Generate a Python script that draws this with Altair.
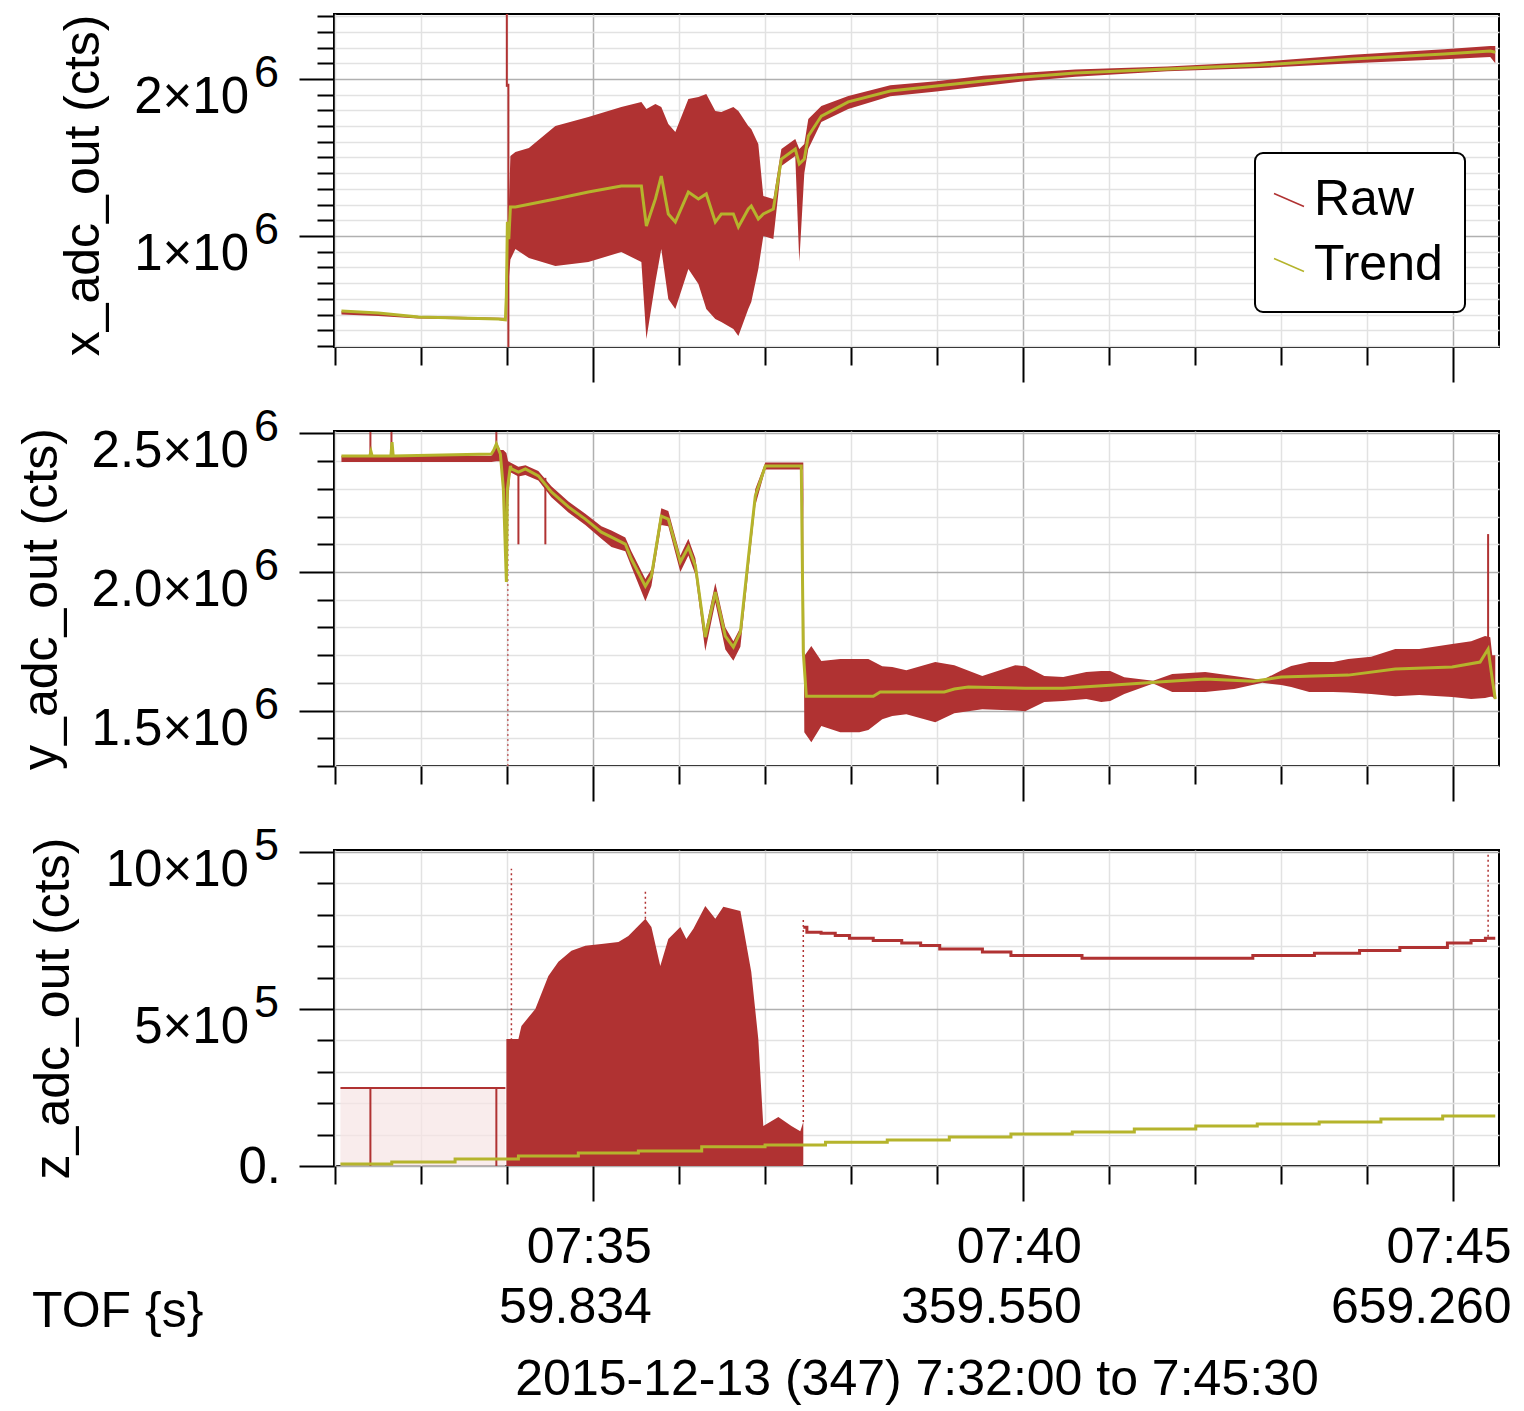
import altair as alt
import pandas as pd

FONT = "Liberation Sans"
RED = "#B03232"
OLIVE = "#B5B42C"
PINK = "#F6E4E4"
GRID_MAJOR = "#b0b0b0"
GRID_MINOR = "#e2e2e2"

# ---------------- x axis (seconds after 07:32:00) ----------------
X_TICKS = list(range(0, 781, 60))
X_MAJOR_T = [180, 480, 780]
X_MAJOR_CLOCK = ["07:35", "07:40", "07:45"]
X_MAJOR_TOF = ["59.834", "359.550", "659.260"]
X_TITLE = "2015-12-13 (347) 7:32:00 to 7:45:30"
TOF_LABEL = ["TOF {s}"]
T_DOMAIN = [-1.0, 812.0]

# ---------------- panel 1 : x_adc_out (millions of counts) ----------------
X1_T = [4.2, 30.0, 57.9, 85.8, 113.7, 118.6, 122.1, 125.6, 135.0, 153.5, 176.5, 199.5, 213.5, 217.0, 223.3,
        227.4, 232.3, 237.2, 246.3, 253.3, 258.8, 265.1, 269.3, 277.7, 281.2, 288.1, 290.2, 295.1, 298.6,
        305.6, 311.2, 320.9, 323.7, 327.2, 330.0, 339.1, 357.9, 387.2, 419.3, 452.1, 480.7, 516.3, 580.5,
        645.4, 709.6, 773.8, 805.9, 809.4]
X1_LO = [0.50, 0.49, 0.475, 0.47, 0.465, 0.46, 0.85, 0.917, 0.86, 0.809, 0.834, 0.898, 0.834, 0.344, 0.707,
         0.917, 0.599, 0.535, 0.790, 0.694, 0.535, 0.472, 0.452, 0.408, 0.363, 0.535, 0.580, 0.790, 1.000,
         0.981, 1.446, 1.510, 0.834, 1.40, 1.554, 1.726, 1.809, 1.89, 1.92, 1.955, 1.985, 2.015, 2.05,
         2.07, 2.10, 2.125, 2.14, 2.10]
X1_HI = [0.52, 0.51, 0.49, 0.485, 0.48, 0.48, 1.51, 1.535, 1.56, 1.701, 1.758, 1.822, 1.854, 1.809, 1.841,
         1.822, 1.713, 1.662, 1.873, 1.885, 1.904, 1.796, 1.790, 1.822, 1.796, 1.701, 1.682, 1.586, 1.255,
         1.236, 1.554, 1.618, 1.554, 1.586, 1.745, 1.828, 1.892, 1.96, 1.985, 2.02, 2.04, 2.06, 2.08,
         2.11, 2.155, 2.19, 2.21, 2.21]
X1_SPIKE_T = [119.6, 120.7]
X1_SPIKE_LO = [1.95, 0.293]
X1_SPIKE_HI = [2.414, 1.97]
X1_TREND_T = [4.2, 30.0, 57.9, 85.8, 113.7, 118.6, 119.3, 120.0, 121.0, 122.1, 125.6, 153.5, 176.5, 199.5,
              213.5, 217.0, 223.3, 227.4, 232.3, 237.2, 246.3, 253.3, 258.8, 265.1, 269.3, 277.7, 281.2,
              288.1, 290.2, 295.1, 298.6, 305.6, 311.2, 320.9, 323.7, 327.2, 330.0, 339.1, 357.9, 387.2,
              419.3, 452.1, 480.7, 516.3, 580.5, 645.4, 709.6, 773.8, 805.9, 809.4]
X1_TREND = [0.522, 0.510, 0.484, 0.478, 0.471, 0.466, 0.62, 1.09, 0.98, 1.185, 1.185, 1.236, 1.280, 1.318,
            1.318, 1.064, 1.236, 1.382, 1.140, 1.089, 1.280, 1.236, 1.268, 1.089, 1.140, 1.140, 1.057,
            1.172, 1.191, 1.108, 1.140, 1.172, 1.49, 1.554, 1.459, 1.49, 1.637, 1.764, 1.854, 1.924,
            1.955, 1.987, 2.013, 2.038, 2.064, 2.089, 2.127, 2.159, 2.178, 2.17]
X1_DOMAIN = [0.293, 2.414]
X1_TICKS = [round(i * 0.1, 1) for i in range(3, 25)]
X1_LAB_V = [1.0, 2.0]
X1_LAB_BASE = ["1×10", "2×10"]
X1_LAB_EXP = ["6", "6"]

# ---------------- panel 2 : y_adc_out ----------------
Y2_T = [4.2, 108.8, 112.3, 115.1, 117.2, 119.3, 120.5, 122.1, 127.7, 132.6, 141.6, 150.7, 162.6, 174.4,
        185.6, 192.6, 202.3, 206.5, 216.3, 220.5, 227.4, 232.3, 240.7, 246.3, 251.2, 258.1, 265.1, 272.1,
        277.7, 282.6, 288.1, 293.0, 300.0, 326.0, 326.5, 327.2, 332.1, 339.1, 352.3, 365.6, 371.9, 381.6,
        388.6, 398.4, 418.6, 431.9, 451.4, 474.4, 481.4, 494.7, 507.9, 524.0, 534.4, 540.7, 550.5, 570.7,
        584.0, 607.0, 627.2, 646.8, 660.0, 667.0, 679.6, 696.3, 706.8, 722.8, 739.6, 756.3, 779.3, 792.6,
        802.3, 805.9, 807.3, 809.4]
Y2_LO = [2.397, 2.397, 2.40, 2.40, 2.28, 1.96, 2.25, 2.36, 2.345, 2.35, 2.33, 2.27, 2.215, 2.17, 2.12,
         2.09, 2.075, 2.02, 1.895, 1.95, 2.17, 2.165, 2.00, 2.06, 1.99, 1.715, 1.89, 1.72, 1.68, 1.73,
         2.00, 2.24, 2.37, 2.37, 2.19, 1.422, 1.386, 1.444, 1.422, 1.422, 1.43, 1.469, 1.48, 1.487, 1.458,
         1.49, 1.505, 1.50, 1.498, 1.531, 1.535, 1.542, 1.531, 1.535, 1.560, 1.598, 1.567, 1.567, 1.578,
         1.600, 1.592, 1.585, 1.567, 1.567, 1.565, 1.560, 1.552, 1.556, 1.549, 1.542, 1.545, 1.55, 1.55,
         1.54]
Y2_HI = [2.42, 2.42, 2.47, 2.44, 2.44, 2.43, 2.40, 2.395, 2.38, 2.385, 2.365, 2.31, 2.255, 2.21, 2.165,
         2.15, 2.125, 2.075, 1.975, 2.01, 2.23, 2.22, 2.06, 2.12, 2.05, 1.79, 1.96, 1.80, 1.75, 1.80,
         2.07, 2.30, 2.395, 2.395, 2.395, 1.697, 1.733, 1.679, 1.686, 1.686, 1.686, 1.66, 1.657, 1.646,
         1.675, 1.664, 1.625, 1.664, 1.66, 1.625, 1.621, 1.639, 1.643, 1.643, 1.62, 1.608, 1.632, 1.639,
         1.625, 1.610, 1.645, 1.661, 1.675, 1.675, 1.686, 1.694, 1.722, 1.722, 1.740, 1.75, 1.769, 1.765,
         1.70, 1.70]
Y2_SPIKE_T = [24.4, 39.1, 112.3, 127.7, 146.5, 804.4]
Y2_SPIKE_LO = [2.42, 2.42, 2.44, 2.10, 2.10, 1.72]
Y2_SPIKE_HI = [2.505, 2.505, 2.505, 2.36, 2.34, 2.137]
Y2_DOT_T = [120.3]
Y2_DOT_LO = [1.30]
Y2_DOT_HI = [2.25]
Y2_TREND_T = [4.2, 24.0, 24.8, 25.6, 38.7, 39.5, 40.3, 108.8, 110.5, 112.3, 115.1, 117.2, 119.3, 120.0,
              122.1, 122.8, 127.7, 132.6, 141.6, 150.7, 162.6, 174.4, 185.6, 192.6, 202.3, 206.5, 216.3,
              220.5, 227.4, 232.3, 240.7, 246.3, 251.2, 258.1, 265.1, 272.1, 277.7, 282.6, 288.1, 293.0,
              300.0, 325.1, 326.5, 328.6, 375.4, 380.2, 424.9, 431.9, 441.6, 481.4, 507.9, 554.0, 574.2,
              607.0, 640.5, 660.0, 706.8, 739.6, 779.3, 798.8, 804.4, 807.3, 809.4]
Y2_TREND = [2.419, 2.419, 2.435, 2.419, 2.419, 2.469, 2.419, 2.426, 2.44, 2.462, 2.426, 2.300, 1.964, 2.30,
            2.383, 2.372, 2.361, 2.372, 2.347, 2.289, 2.235, 2.191, 2.144, 2.126, 2.101, 2.047, 1.949,
            1.986, 2.202, 2.191, 2.036, 2.090, 2.022, 1.765, 1.928, 1.769, 1.729, 1.783, 2.047, 2.274,
            2.383, 2.383, 1.711, 1.552, 1.552, 1.567, 1.567, 1.578, 1.585, 1.581, 1.581, 1.596, 1.603,
            1.614, 1.606, 1.621, 1.628, 1.650, 1.657, 1.675, 1.722, 1.614, 1.542]
Y2_DOMAIN = [1.300, 2.509]
Y2_TICKS = [round(i * 0.1, 1) for i in range(13, 26)]
Y2_LAB_V = [1.5, 2.0, 2.5]
Y2_LAB_BASE = ["1.5×10", "2.0×10", "2.5×10"]
Y2_LAB_EXP = ["6", "6", "6"]

# ---------------- panel 3 : z_adc_out ----------------
Z3_PINK_T = [3.5, 118.6]
Z3_PINK_HI = [0.248, 0.248]
Z3_BLOB_T = [119.3, 127.7, 129.8, 139.5, 148.6, 155.6, 164.7, 174.4, 185.6, 197.5, 204.4, 216.3, 220.5,
             226.7, 232.3, 240.7, 244.9, 249.8, 258.1, 265.1, 270.7, 282.6, 290.2, 295.1, 298.6, 309.1,
             318.2, 324.4, 326.5]
Z3_BLOB_HI = [0.404, 0.404, 0.446, 0.500, 0.605, 0.650, 0.685, 0.701, 0.707, 0.713, 0.732, 0.787, 0.761,
              0.637, 0.723, 0.761, 0.723, 0.755, 0.828, 0.787, 0.825, 0.812, 0.618, 0.404, 0.127, 0.156,
              0.127, 0.111, 0.140]
Z3_LINE_T = [326.5, 329.0, 338.9, 348.8, 358.7, 375.3, 395.2, 408.4, 421.7, 451.5, 471.4, 521.0, 640.2,
             683.2, 714.7, 742.8, 776.0, 792.5, 802.5, 809.4]
Z3_LINE_V = [0.760, 0.744, 0.741, 0.734, 0.725, 0.718, 0.710, 0.702, 0.691, 0.681, 0.670, 0.661, 0.670,
             0.677, 0.686, 0.696, 0.710, 0.718, 0.725, 0.725]
Z3_SPIKE_T = [24.4, 112.3]
Z3_SPIKE_LO = [0.0, 0.0]
Z3_SPIKE_HI = [0.248, 0.248]
Z3_DOT_T = [122.8, 216.3, 326.5, 804.4]
Z3_DOT_LO = [0.40, 0.787, 0.14, 0.73]
Z3_DOT_HI = [0.946, 0.876, 0.793, 1.0]
Z3_TREND_T = [3.5, 39.3, 83.5, 127.7, 169.5, 211.4, 255.6, 299.8, 342.0, 385.1, 428.4, 471.4, 514.2,
              557.5, 600.4, 643.3, 686.5, 729.6, 772.7, 809.4]
Z3_TREND = [0.006, 0.013, 0.022, 0.032, 0.041, 0.048, 0.061, 0.067, 0.076, 0.083, 0.092, 0.102, 0.108,
            0.118, 0.127, 0.134, 0.140, 0.150, 0.159, 0.159]
Z3_DOMAIN = [0.0, 1.006]
Z3_TICKS = [round(i * 0.1, 1) for i in range(0, 11)]
Z3_LAB_V = [0.5, 1.0]
Z3_LAB_BASE = ["5×10", "10×10"]
Z3_LAB_EXP = ["5", "5"]
Z3_PLAIN_V = [0.0]
Z3_PLAIN_TEXT = ["0."]

SERIES = ["Raw", "Trend"]

W = 1165
H1, H2, H3 = 333, 335, 316
FS = 50
FS_TICK = 51
FS_EXP = 45

MAJOR_X = "datum.value % 300 == 180"
MAJOR_ONE = "abs(datum.value - round(datum.value)) < 0.001"
MAJOR_HALF = "abs(datum.value * 2 - round(datum.value * 2)) < 0.001"
label_expr = "".join(
    f"datum.value == {t} ? ['{c}', '{f}'] : " for t, c, f in zip(X_MAJOR_T, X_MAJOR_CLOCK, X_MAJOR_TOF)
) + "''"


def x_axis(show_labels):
    kw = dict(
        values=X_TICKS, domain=False, grid=True,
        gridColor={"condition": {"test": MAJOR_X, "value": GRID_MAJOR}, "value": GRID_MINOR},
        gridWidth=1.5, ticks=True, tickColor="black", tickWidth=2,
        tickSize={"condition": {"test": MAJOR_X, "value": 35}, "value": 18},
        labelFlush=False,
    )
    if show_labels:
        kw.update(labels=True, labelExpr=label_expr, labelFont=FONT, labelFontSize=FS, labelColor="black",
                  labelAlign="right", labelOffset=58, labelPadding=21, labelLineHeight=60,
                  labelOverlap=False, labelLimit=500, title=X_TITLE, titleFont=FONT, titleFontSize=FS,
                  titleFontWeight="normal", titleColor="black", titlePadding=22)
    else:
        kw.update(labels=False, title=None)
    return alt.Axis(**kw)


def y_axis(title, ticks, major_test, pad, anchor=None):
    kw = dict(
        values=ticks, domain=False, grid=True,
        gridColor={"condition": {"test": major_test, "value": GRID_MAJOR}, "value": GRID_MINOR},
        gridWidth=1.5, tickColor="black", tickWidth=2,
        tickSize={"condition": {"test": major_test, "value": 35}, "value": 17},
        labels=False, title=title, titleFont=FONT, titleFontSize=FS, titleFontWeight="normal",
        titleColor="black", titlePadding=pad,
    )
    if anchor:
        kw["titleAnchor"] = anchor
    return alt.Axis(**kw)


def make_panel(xa, ya, domain):
    def xs():
        return alt.X("t:Q", scale=alt.Scale(domain=T_DOMAIN, nice=False, zero=False), axis=xa)

    def ys(field):
        return alt.Y(field, scale=alt.Scale(domain=domain, nice=False, zero=False), axis=ya)

    return xs, ys


def tick_labels(ys, vals, bases, exps, plain_v=None, plain_t=None):
    df = pd.DataFrame({"v": vals, "base": bases, "exp": exps})
    base = alt.Chart(df).mark_text(align="right", baseline="alphabetic", dy=34, font=FONT,
                                   fontSize=FS_TICK, color="black").encode(
        x=alt.value(-85), y=ys("v:Q"), text="base:N")
    exp = alt.Chart(df).mark_text(align="left", baseline="alphabetic", dy=8, font=FONT,
                                  fontSize=FS_EXP, color="black").encode(
        x=alt.value(-80), y=ys("v:Q"), text="exp:N")
    out = [base, exp]
    if plain_v:
        dfp = pd.DataFrame({"v": plain_v, "txt": plain_t})
        out.append(alt.Chart(dfp).mark_text(align="right", baseline="middle", dy=2, font=FONT,
                                            fontSize=FS_TICK, color="black").encode(
            x=alt.value(-53), y=ys("v:Q"), text="txt:N"))
    return out


color_enc = alt.Color(
    "series:N",
    scale=alt.Scale(domain=SERIES, range=[RED, OLIVE]),
    legend=alt.Legend(
        title=None, orient="none", legendX=921, legendY=139, direction="vertical",
        symbolType="M-1,-0.43L1,0.43", symbolSize=900, symbolStrokeWidth=1.5, symbolOffset=-13,
        labelFont=FONT, labelFontSize=FS, labelColor="black", labelOffset=0, labelLimit=400,
        strokeColor="black", cornerRadius=8, padding=22, fillColor="white", rowPadding=15,
    ),
)

# ---------------- panel 1 ----------------
xs1, ys1 = make_panel(x_axis(False), y_axis("x_adc_out (cts)", X1_TICKS, MAJOR_ONE, 190, "end"),
                      X1_DOMAIN)
d1_raw = pd.DataFrame({"t": X1_T, "lo": X1_LO, "hi": X1_HI})
d1_spk = pd.DataFrame({"t": X1_SPIKE_T, "lo": X1_SPIKE_LO, "hi": X1_SPIKE_HI, "series": "Raw"})
d1_tr = pd.DataFrame({"t": X1_TREND_T, "v": X1_TREND, "series": "Trend"})

p1 = alt.layer(
    alt.Chart(d1_raw).mark_area(color=RED, clip=True).encode(x=xs1(), y=ys1("lo:Q"), y2="hi:Q"),
    alt.Chart(d1_spk).mark_rule(strokeWidth=2, clip=True).encode(
        x=xs1(), y=ys1("lo:Q"), y2="hi:Q", color=color_enc),
    alt.Chart(d1_tr).mark_line(strokeWidth=3, clip=True).encode(x=xs1(), y=ys1("v:Q"), color=color_enc),
    *tick_labels(ys1, X1_LAB_V, X1_LAB_BASE, X1_LAB_EXP),
).properties(width=W, height=H1)

# ---------------- panel 2 ----------------
xs2, ys2 = make_panel(x_axis(False), y_axis("y_adc_out (cts)", Y2_TICKS, MAJOR_HALF, 232), Y2_DOMAIN)
d2_raw = pd.DataFrame({"t": Y2_T, "lo": Y2_LO, "hi": Y2_HI})
d2_spk = pd.DataFrame({"t": Y2_SPIKE_T, "lo": Y2_SPIKE_LO, "hi": Y2_SPIKE_HI})
d2_dot = pd.DataFrame({"t": Y2_DOT_T, "lo": Y2_DOT_LO, "hi": Y2_DOT_HI})
d2_tr = pd.DataFrame({"t": Y2_TREND_T, "v": Y2_TREND})

p2 = alt.layer(
    alt.Chart(d2_raw).mark_area(color=RED, clip=True).encode(x=xs2(), y=ys2("lo:Q"), y2="hi:Q"),
    alt.Chart(d2_spk).mark_rule(strokeWidth=2, color=RED, clip=True).encode(
        x=xs2(), y=ys2("lo:Q"), y2="hi:Q"),
    alt.Chart(d2_dot).mark_rule(strokeWidth=1.5, color=RED, strokeDash=[2, 3], opacity=0.7,
                                clip=True).encode(x=xs2(), y=ys2("lo:Q"), y2="hi:Q"),
    alt.Chart(d2_tr).mark_line(strokeWidth=3, color=OLIVE, clip=True).encode(x=xs2(), y=ys2("v:Q")),
    *tick_labels(ys2, Y2_LAB_V, Y2_LAB_BASE, Y2_LAB_EXP),
).properties(width=W, height=H2)

# ---------------- panel 3 ----------------
xs3, ys3 = make_panel(x_axis(True), y_axis("z_adc_out (cts)", Z3_TICKS, MAJOR_HALF, 220), Z3_DOMAIN)
d3_pink = pd.DataFrame({"t": Z3_PINK_T, "hi": Z3_PINK_HI, "lo": [0.0] * len(Z3_PINK_T)})
d3_blob = pd.DataFrame({"t": Z3_BLOB_T, "hi": Z3_BLOB_HI, "lo": [0.0] * len(Z3_BLOB_T)})
d3_line = pd.DataFrame({"t": Z3_LINE_T, "v": Z3_LINE_V})
d3_spk = pd.DataFrame({"t": Z3_SPIKE_T, "lo": Z3_SPIKE_LO, "hi": Z3_SPIKE_HI})
d3_dot = pd.DataFrame({"t": Z3_DOT_T, "lo": Z3_DOT_LO, "hi": Z3_DOT_HI})
d3_tr = pd.DataFrame({"t": Z3_TREND_T, "v": Z3_TREND})
d3_tof = pd.DataFrame({"txt": TOF_LABEL})

p3 = alt.layer(
    alt.Chart(d3_pink).mark_area(color=PINK, clip=True,
                                 line=alt.OverlayMarkDef(color=RED, strokeWidth=2)).encode(
        x=xs3(), y=ys3("hi:Q"), y2="lo:Q"),
    alt.Chart(d3_blob).mark_area(color=RED, clip=True).encode(x=xs3(), y=ys3("hi:Q"), y2="lo:Q"),
    alt.Chart(d3_line).mark_line(color=RED, strokeWidth=3, interpolate="step-after", clip=True).encode(
        x=xs3(), y=ys3("v:Q")),
    alt.Chart(d3_spk).mark_rule(strokeWidth=2, color=RED, clip=True).encode(
        x=xs3(), y=ys3("lo:Q"), y2="hi:Q"),
    alt.Chart(d3_dot).mark_rule(strokeWidth=1.5, color=RED, strokeDash=[2, 3], clip=True).encode(
        x=xs3(), y=ys3("lo:Q"), y2="hi:Q"),
    alt.Chart(d3_tr).mark_line(strokeWidth=3, color=OLIVE, interpolate="step-after", clip=True).encode(
        x=xs3(), y=ys3("v:Q")),
    *tick_labels(ys3, Z3_LAB_V, Z3_LAB_BASE, Z3_LAB_EXP, Z3_PLAIN_V, Z3_PLAIN_TEXT),
    alt.Chart(d3_tof).mark_text(align="left", baseline="alphabetic", font=FONT, fontSize=FS,
                                color="black").encode(
        x=alt.value(-302), y=alt.value(477), text="txt:N"),
).properties(width=W, height=H3)

chart = alt.vconcat(p1, p2, p3, spacing=84, bounds="flush").properties(
    padding={"left": 7, "top": 4, "right": 0, "bottom": 0}
).configure_view(stroke="black", strokeWidth=2).configure_legend(strokeWidth=2)

chart.save("out.html", embed_options={"renderer": "svg", "actions": False})
